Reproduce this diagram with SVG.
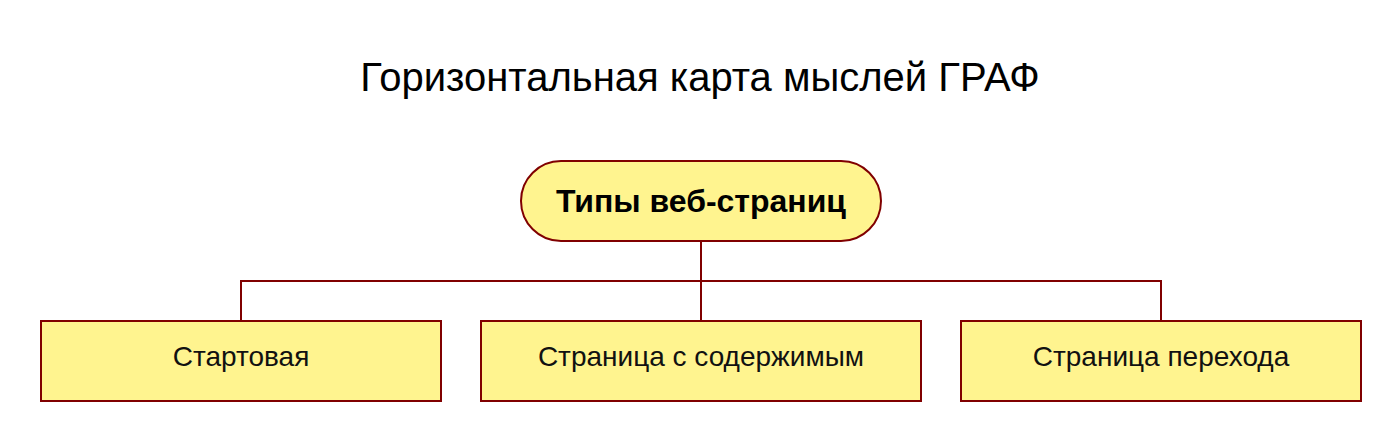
<svg xmlns="http://www.w3.org/2000/svg" width="1400" height="440" viewBox="0 0 1400 440">
<style>
.node{fill:#fff48f;stroke:#800000;stroke-width:2}
.conn{fill:none;stroke:#800000;stroke-width:2}
.t{font-family:"Liberation Sans",Arial,sans-serif;fill:#000;text-anchor:middle}
.title{font-size:40px}
.root{font-size:32px;font-weight:bold}
.child{font-size:28px;fill:#111}
</style>
<rect width="1400" height="440" fill="#fff"/>
<text class="t title" x="700" y="91">Горизонтальная карта мыслей ГРАФ</text>
<g id="connectors">
<path class="conn" d="M701 241V281M241 321V281H1161V321M701 281V321"/>
</g>
<g id="root">
<rect class="node" x="521" y="161" width="360" height="80" rx="40"/>
<text class="t root" x="701" y="212">Типы веб-страниц</text>
</g>
<g id="child1">
<rect class="node" x="41" y="321" width="400" height="80"/>
<text class="t child" x="241" y="366">Стартовая</text>
</g>
<g id="child2">
<rect class="node" x="481" y="321" width="440" height="80"/>
<text class="t child" x="701" y="366">Страница с содержимым</text>
</g>
<g id="child3">
<rect class="node" x="961" y="321" width="400" height="80"/>
<text class="t child" x="1161" y="366">Страница перехода</text>
</g>
</svg>
